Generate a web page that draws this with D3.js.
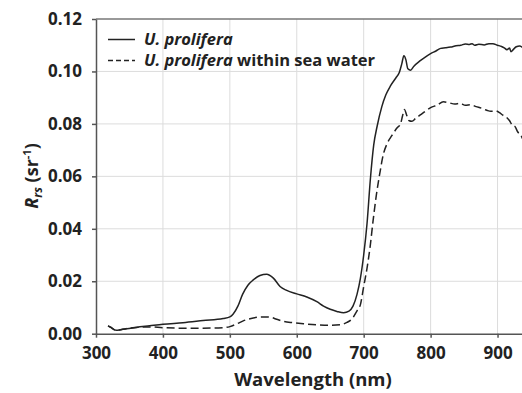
<!DOCTYPE html>
<html>
<head>
<meta charset="utf-8">
<script src="https://cdn.jsdelivr.net/npm/d3@7"></script>
<style>
    body { margin: 0; background: #fff; }
    #chart { width: 522px; height: 393px; overflow: hidden; }
    svg { font-family: "Open Sans", sans-serif; font-weight: bold; }
    .grid line { stroke: #dcdcdc; stroke-width: 1; }
    .axis path, .axis line { stroke: #555; }
    .axis text { font-size: 17px; fill: #222; font-family: "Open Sans", sans-serif; font-weight: bold; }
</style>
</head>
<body>
<div id="chart"></div>
<script>

// wavelength (nm), Rrs (sr^-1)
let ulvaOnly = [
    [318,0.0030],[322,0.0025],[330,0.0013],[340,0.0017],[360,0.0024],[380,0.0030],[400,0.0036],
    [430,0.0042],[460,0.0050],[490,0.0058],[500,0.0064],[505,0.0075],[512,0.0105],[519,0.0150],
    [527,0.0185],[535,0.0205],[545,0.0222],[555,0.0227],[565,0.0212],[575,0.0180],[585,0.0165],
    [600,0.0152],[615,0.0140],[630,0.0122],[640,0.0105],[650,0.0093],[660,0.0085],[670,0.0080],
    [678,0.0086],[684,0.0105],[690,0.0150],[695,0.0210],[700,0.0300],[705,0.0420],[710,0.0590],
    [715,0.0720],[720,0.0790],[727,0.0865],[733,0.0910],[740,0.0945],[748,0.0975],[753,0.0995],
    [757,0.1030],[760,0.1060],[763,0.1045],[766,0.1010],[770,0.1005],[775,0.1020],[784,0.1040],
    [792,0.1055],[800,0.1068],[808,0.1078],[815,0.1088],[822,0.1090],[830,0.1093],[838,0.1098],
    [845,0.1100],[852,0.1105],[858,0.1103],[862,0.1106],[866,0.1100],[872,0.1104],[880,0.1101],
    [887,0.1106],[893,0.1106],[900,0.1100],[906,0.1095],[910,0.1090],[914,0.1083],[918,0.1089],
    [920,0.1075],[924,0.1085],[928,0.1094],[933,0.1097],[938,0.1090]
];

let ulvaInWater = [
    [318,0.0030],[322,0.0024],[330,0.0013],[340,0.0017],[350,0.0021],[365,0.0025],[380,0.0026],
    [400,0.0023],[430,0.0021],[460,0.0021],[490,0.0023],[500,0.0027],[510,0.0037],[520,0.0049],
    [535,0.0060],[550,0.0064],[560,0.0063],[570,0.0055],[580,0.0047],[595,0.0042],[610,0.0038],
    [630,0.0034],[650,0.0032],[665,0.0034],[675,0.0043],[683,0.0058],[690,0.0087],[695,0.0110],
    [700,0.0180],[705,0.0250],[710,0.0340],[714,0.0430],[719,0.0530],[724,0.0610],[729,0.0680],
    [735,0.0725],[742,0.0755],[750,0.0785],[755,0.0800],[758,0.0830],[761,0.0855],[764,0.0835],
    [768,0.0812],[772,0.0810],[778,0.0822],[785,0.0835],[792,0.0848],[800,0.0862],[810,0.0872],
    [819,0.0884],[828,0.0880],[836,0.0876],[844,0.0878],[852,0.0871],[860,0.0873],[868,0.0866],
    [876,0.0860],[884,0.0852],[890,0.0848],[897,0.0850],[903,0.0843],[908,0.0833],[913,0.0826],
    [918,0.0812],[922,0.0795],[926,0.0790],[930,0.0770],[935,0.0756],[938,0.0740]
];

let xTicks = [300, 400, 500, 600, 700, 800, 900];
let yTicks = [0, 0.02, 0.04, 0.06, 0.08, 0.10, 0.12];

let seriesNames = ["U. prolifera", "U. prolifera"];
let seriesSuffix = ["", " within sea water"];


class SpectrumChart {
    constructor(_parentElement, _series) {
        this.parentElement = _parentElement;
        this.series = _series;
        this.initVis();
    }

    initVis() {
        let vis = this;

        vis.margin = {top: 19, right: 0, bottom: 60, left: 96};
        vis.width = 522 - vis.margin.left;
        vis.height = 393 - vis.margin.top - vis.margin.bottom;

        vis.svg = d3.select("#" + vis.parentElement).append("svg")
            .attr("width", 522)
            .attr("height", 393)
            .append("g")
            .attr("transform", "translate(" + vis.margin.left + "," + vis.margin.top + ")");

        // plot runs past the right edge of the picture
        vis.x = d3.scaleLinear()
            .domain([300, 950])
            .range([0, 435]);

        vis.y = d3.scaleLinear()
            .domain([0, 0.12])
            .range([vis.height + 0.7, 0]);

        vis.svg.append("clipPath")
            .attr("id", "plot-clip")
            .append("rect")
            .attr("width", vis.width)
            .attr("height", vis.height + 2);

        vis.updateVis();
    }

    updateVis() {
        let vis = this;

        // grid
        vis.svg.append("g")
            .attr("class", "grid")
            .selectAll("line.v")
            .data(xTicks.slice(1))
            .enter().append("line")
            .attr("x1", d => vis.x(d)).attr("x2", d => vis.x(d))
            .attr("y1", 0).attr("y2", vis.y(0));

        vis.svg.append("g")
            .attr("class", "grid")
            .selectAll("line.h")
            .data(yTicks.slice(1, -1))
            .enter().append("line")
            .attr("x1", 0).attr("x2", vis.width)
            .attr("y1", d => vis.y(d)).attr("y2", d => vis.y(d));

        // top border
        vis.svg.append("line")
            .attr("x1", 0).attr("x2", vis.width)
            .attr("y1", vis.y(0.12)).attr("y2", vis.y(0.12))
            .style("stroke", "#777")
            .style("stroke-width", 1.5);

        vis.svg.append("g")
            .attr("class", "axis")
            .attr("transform", `translate(0, ${vis.y(0)})`)
            .style("stroke-width", 1.5)
            .call(d3.axisBottom(vis.x)
                .tickValues(xTicks)
                .tickSize(4)
                .tickSizeOuter(0)
                .tickPadding(9))
            .call(g => g.select(".domain").attr("d", `M0,0.5H${vis.width}`));

        vis.svg.append("g")
            .attr("class", "axis")
            .style("stroke-width", 1.5)
            .call(d3.axisLeft(vis.y)
                .tickValues(yTicks)
                .tickFormat(d3.format(".2f"))
                .tickSize(4)
                .tickSizeOuter(0)
                .tickPadding(10));

        let line = d3.line()
            .x(d => vis.x(d[0]))
            .y(d => vis.y(d[1]))
            .curve(d3.curveMonotoneX);

        let plot = vis.svg.append("g").attr("clip-path", "url(#plot-clip)");

        plot.selectAll(".spectrum")
            .data(vis.series)
            .enter().append("path")
            .attr("class", "spectrum")
            .attr("d", d => line(d))
            .style("fill", "none")
            .style("stroke", "#222")
            .style("stroke-width", 1.5)
            .style("stroke-dasharray", (d, i) => i === 1 ? "8,4" : null);

        // legend
        let legend = vis.svg.selectAll(".legend-row")
            .data(seriesNames)
            .enter().append("g")
            .attr("class", "legend-row")
            .attr("transform", (d, i) => `translate(12, ${20.5 + i * 21})`);

        legend.append("line")
            .attr("x1", 0).attr("x2", 27)
            .attr("y1", 0).attr("y2", 0)
            .style("stroke", "#222")
            .style("stroke-width", 1.5)
            .style("stroke-dasharray", (d, i) => i === 1 ? "5,3" : null);

        let labels = legend.append("text")
            .attr("x", 36)
            .attr("y", 5.5)
            .style("font-size", "16.5px")
            .style("fill", "#222");

        labels.append("tspan")
            .style("font-style", "italic")
            .text(d => d);

        labels.append("tspan")
            .text((d, i) => seriesSuffix[i]);

        // axis titles
        vis.svg.append("text")
            .attr("x", 313 - vis.margin.left)
            .attr("y", 386 - vis.margin.top)
            .attr("text-anchor", "middle")
            .style("font-size", "18.5px")
            .style("fill", "#222")
            .text("Wavelength (nm)");

        let ylab = vis.svg.append("text")
            .attr("transform", `translate(${38 - vis.margin.left}, ${176 - vis.margin.top}) rotate(-90)`)
            .attr("text-anchor", "middle")
            .style("font-size", "18px")
            .style("fill", "#222");

        ylab.append("tspan").style("font-style", "italic").text("R");
        ylab.append("tspan").style("font-style", "italic").style("font-size", "12px")
            .attr("dy", 4).text("rs");
        ylab.append("tspan").attr("dy", -4).text(" (sr");
        ylab.append("tspan").style("font-size", "11px").attr("dy", -7).text("-1");
        ylab.append("tspan").attr("dy", 7).text(")");
    }
}

new SpectrumChart("chart", [ulvaOnly, ulvaInWater]);
</script>
</body>
</html>
